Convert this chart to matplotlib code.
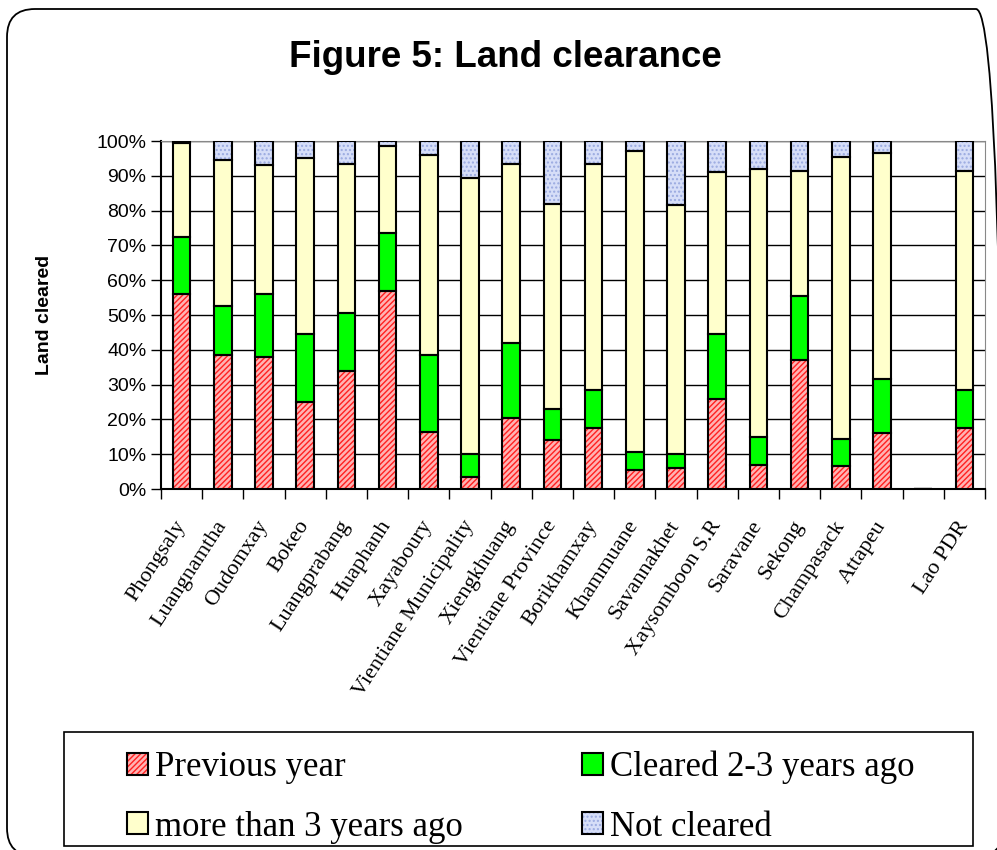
import numpy as np
import matplotlib.pyplot as plt
from matplotlib.patches import FancyBboxPatch, Patch, Rectangle
from matplotlib.legend_handler import HandlerTuple

# provinces (empty slot before the national total)
provinces = ['Phongsaly', 'Luangnamtha', 'Oudomxay', 'Bokeo', 'Luangprabang', 'Huaphanh',
             'Xayaboury', 'Vientiane Municipality', 'Xiengkhuang', 'Vientiane Province',
             'Borikhamxay', 'Khammuane', 'Savannakhet', 'Xaysomboon S.R', 'Saravane',
             'Sekong', 'Champasack', 'Attapeu', '', 'Lao PDR']

# shares in percent
previous_year = [56, 38.5, 38, 25, 34, 57, 16.5, 3.5, 20.5, 14, 17.5, 5.5, 6, 26, 7, 37, 6.5, 16, 0, 17.5]
cleared_2_3 = [16.5, 14, 18, 19.5, 16.5, 16.5, 22, 6.5, 21.5, 9, 11, 5, 4, 18.5, 8, 18.5, 8, 15.5, 0, 11]
more_than_3 = [27, 42, 37, 50.5, 43, 25, 57.5, 79.5, 51.5, 59, 65, 86.5, 71.5, 46.5, 77, 36, 81, 65, 0, 63]
not_cleared = [0.5, 5.5, 7, 5, 6.5, 1.5, 4, 10.5, 6.5, 18, 6.5, 3, 18.5, 9, 8, 8.5, 4.5, 3.5, 0, 8.5]

legend_labels = ['Previous year', 'Cleared 2-3 years ago', 'more than 3 years ago', 'Not cleared']

fig = plt.figure(figsize=(9.97, 8.5), dpi=100)

# rounded outer frame (inches), right edge runs just off the picture
frame = FancyBboxPatch((0.07, -0.06), 9.97, 8.47,
                       boxstyle='round,pad=0,rounding_size=0.28',
                       transform=fig.dpi_scale_trans, fill=False, edgecolor='black', lw=1.3)
fig.patches.append(frame)

ax = fig.add_axes([161/997, 1 - 489/850, 824/997, 348/850])

x = np.arange(len(provinces))
w = 0.43
series = [previous_year, cleared_2_3, more_than_3, not_cleared]
faces = ['#ffb3b3', '#00ff00', '#ffffcc', '#d6def8']
hatch_cols = ['#ff2020', '#00ff00', '#ffffcc', '#9aaae0']
hatches = ['//////', None, None, '....']

bottom = np.zeros(len(provinces))
for vals, fc, hc, h in zip(series, faces, hatch_cols, hatches):
    vals = np.array(vals, dtype=float)
    ax.bar(x, vals, w, bottom=bottom, color=fc, edgecolor=hc, hatch=h, lw=0, zorder=3)
    ax.bar(x, vals, w, bottom=bottom, fill=False, edgecolor='black', lw=1.5, zorder=4)
    bottom += vals

ax.set_xlim(-0.5, len(provinces) - 0.5)
ax.set_ylim(0, 100)
ax.set_yticks(np.arange(0, 101, 10))
ax.set_yticklabels([f'{v}%' for v in range(0, 101, 10)], fontsize=14, family='Liberation Sans')
ax.yaxis.grid(True, color='black', lw=1, zorder=0)
ax.set_axisbelow(True)

ax.set_xticks(x)
ax.set_xticklabels(provinces, rotation=57, ha='right', va='center', rotation_mode='anchor',
                   fontsize=16, family='Liberation Serif')
ax.tick_params(axis='x', length=0, pad=24)
ax.set_xticks(np.arange(-0.5, len(provinces), 1), minor=True)
ax.tick_params(axis='x', which='minor', length=7, width=1, color='black')
ax.tick_params(axis='y', length=7, width=1, color='black')

for s in ['top', 'right']:
    ax.spines[s].set_color('#888888')
ax.spines['left'].set_lw(1.5)
ax.spines['bottom'].set_lw(1.5)

ax.set_ylabel('Land cleared', fontsize=14, fontweight='bold', family='Liberation Sans')
ax.yaxis.set_label_coords(-0.131, 0.5)

fig.text(0.507, 0.932, 'Figure 5: Land clearance', ha='center', va='center',
         fontsize=26.5, fontweight='bold', family='Liberation Sans')

# legend box
fig.patches.append(Rectangle((64/997, 1 - 846/850), 909/997, 114/850, transform=fig.transFigure,
                             fill=False, edgecolor='black', lw=1.2))

def swatch(i):
    fill = Patch(facecolor=faces[i], edgecolor=hatch_cols[i], hatch=hatches[i], lw=0)
    edge = Patch(fill=False, edgecolor='black', lw=1.5)
    return (fill, edge)

order = [0, 2, 1, 3]
handles = [swatch(i) for i in order]
labels = [legend_labels[i] for i in order]
fig.legend(handles, labels, loc='upper left', ncol=2,
           handler_map={tuple: HandlerTuple(ndivide=1, pad=0)},
           bbox_to_anchor=(127/997, 1 - 751/850),
           prop={'family': 'Liberation Serif', 'size': 25}, frameon=False,
           handlelength=0.6, handleheight=0.6, handletextpad=0.2,
           labelspacing=0.75, columnspacing=3.45, borderaxespad=0, borderpad=0)

fig.savefig('out.png', dpi=100)
